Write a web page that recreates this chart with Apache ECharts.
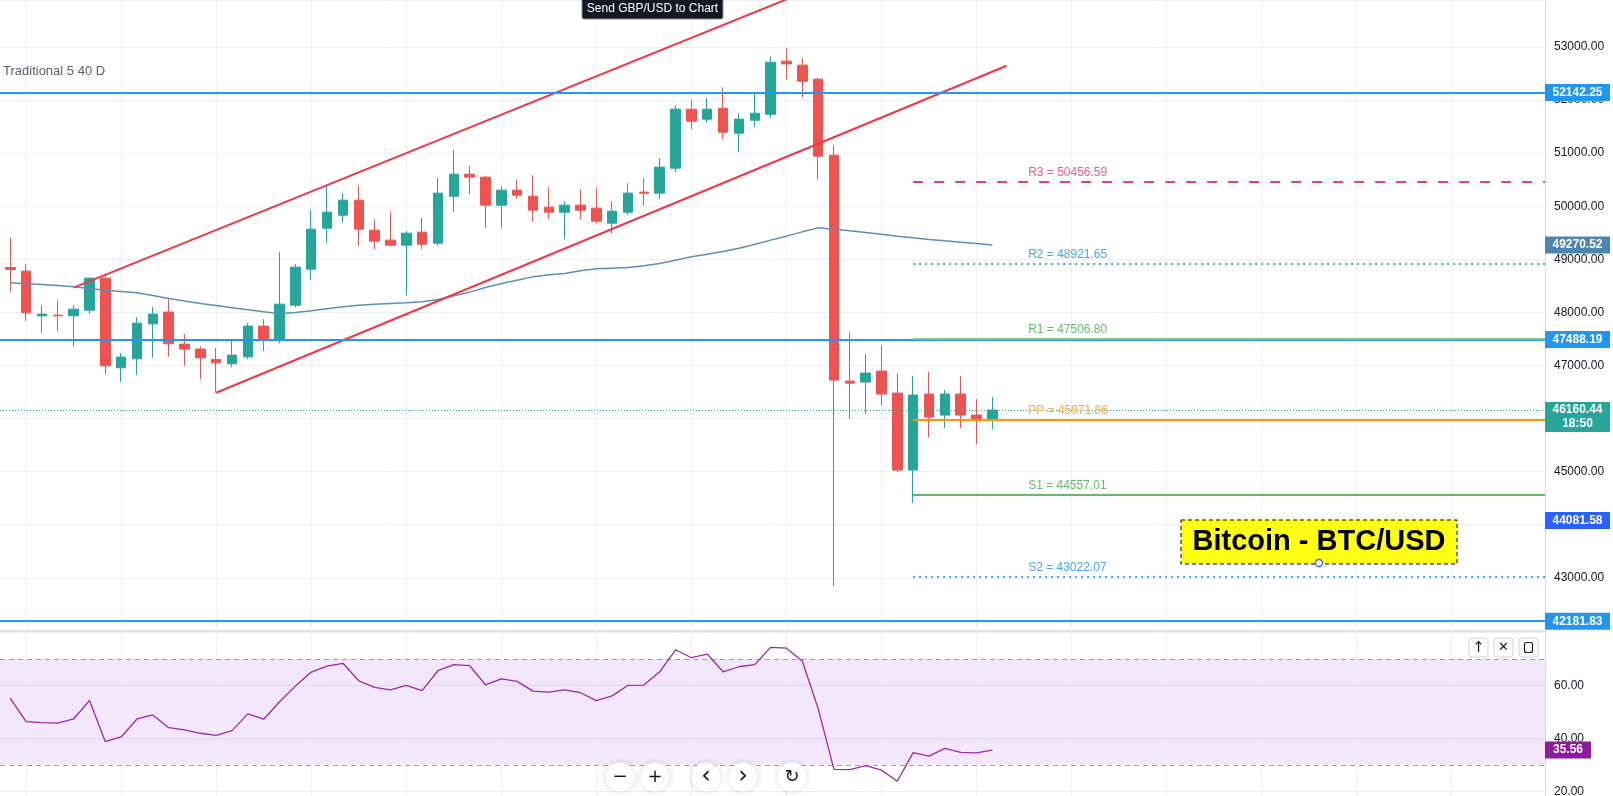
<!DOCTYPE html>
<html>
<head>
<meta charset="utf-8">
<script src="https://cdn.jsdelivr.net/npm/echarts@6/dist/echarts.min.js"></script>
<style>
  html, body { margin: 0; padding: 0; background: #fff; }
  #chart { width: 1613px; height: 796px; }
</style>
</head>
<body>
<div id="chart"></div>
<script>
// BTC/USD candles, index 0..62
const opens = [48847, 48778, 47936, 47949, 47936, 48043, 48646, 46957, 47126, 47785,
  48006, 47403, 47309, 47115, 47032, 47164, 47742, 47497, 48137, 48815,
  49588, 49832, 50115, 49550, 49362, 49267, 49512, 49305, 50190, 50605,
  50548, 50021, 50303, 50190, 49983, 49889, 50021, 49964, 49682, 49889,
  50266, 50247, 50718, 51829, 51640, 51847, 51377, 51621, 51734, 52733,
  52657, 52394, 50962, 46706, 46687, 46895, 46480, 45030, 46462, 46066,
  46462, 46066, 45990]
const closes = [48810, 47992, 47968, 47936, 48062, 48646, 46994, 47158, 47798, 47968,
  47409, 47309, 47145, 47051, 47196, 47742, 47497, 48156, 48853, 49569,
  49889, 50115, 49569, 49343, 49267, 49493, 49286, 50247, 50605, 50548,
  50021, 50303, 50209, 49927, 49889, 50021, 49927, 49719, 49908, 50247,
  50247, 50736, 51829, 51603, 51829, 51395, 51640, 51753, 52714, 52682,
  52356, 50943, 46725, 46667, 46857, 46462, 45030, 46443, 46028, 46462,
  46066, 45991, 46160.44]
const lows = [48388, 47842, 47616, 47648, 47352, 47970, 46838, 46693, 46819, 47145,
  47164, 46994, 46744, 46486, 46970, 47121, 47271, 47422, 48094, 48608,
  49305, 49701, 49249, 49192, 49249, 48326, 49192, 49267, 49889, 50228,
  49588, 49588, 50134, 49719, 49757, 49380, 49757, 49682, 49493, 49832,
  50021, 50134, 50642, 51452, 51584, 51264, 51019, 51490, 51659, 52394,
  52055, 50510, 42850, 45991, 46085, 46254, 44992, 44409, 45652, 45821,
  45821, 45518, 45794]
const highs = [49412, 48910, 48138, 48232, 48138, 48660, 48734, 47234, 47911, 48100,
  48275, 47591, 47365, 47328, 47484, 47798, 47874, 49136, 48910, 49927,
  50384, 50247, 50397, 49757, 49889, 49531, 49782, 50529, 51056, 50755,
  50567, 50379, 50492, 50586, 50360, 50096, 50322, 50341, 50096, 50435,
  50529, 50906, 51904, 51998, 52036, 52243, 51753, 52111, 52827, 52978,
  52789, 52420, 51151, 47629, 47215, 47384, 46857, 46800, 46876, 46537,
  46800, 46367, 46405]

// moving average
const maLine = [48560, 48540, 48525, 48505, 48482, 48450, 48420, 48395, 48369, 48320,
  48264, 48215, 48170, 48130, 48087, 48050, 48011, 47975, 48000, 48030,
  48068, 48105, 48137, 48156, 48170, 48180, 48200, 48245, 48312, 48382,
  48470, 48546, 48608, 48670, 48710, 48734, 48784, 48821, 48834, 48847,
  48878, 48923, 48985, 49047, 49098, 49149, 49211, 49281, 49362, 49437,
  49518, 49593, 49569, 49537, 49507, 49475, 49437, 49405, 49375, 49349,
  49324, 49300, 49271]

// RSI
const rsiLine = [55.1, 46.3, 45.9, 45.7, 47.3, 54.3, 38.7, 40.5, 47.3, 48.8,
  44.0, 43.2, 41.9, 41.1, 42.9, 49.2, 47.2, 53.8, 59.7, 65.0,
  67.2, 68.3, 61.7, 59.2, 58.3, 60.0, 58.0, 65.5, 67.8, 67.4,
  60.2, 62.4, 61.5, 57.8, 57.4, 58.3, 57.2, 54.2, 56.0, 60.0,
  60.1, 65.1, 73.4, 70.4, 71.8, 65.1, 67.0, 67.8, 74.3, 74.0,
  69.2, 51.3, 28.3, 28.2, 29.7, 28.0, 23.8, 34.6, 33.3, 36.2,
  34.7, 34.5, 35.56]

// trend channel (bar index, price)
const channelUpper = [[4, 48466], [50, 54018]]
const channelLower = [[13, 46486], [62.9, 52648]]

// horizontal levels
const blueLevels = [52142.25, 47488.19, 42181.83]
const lastPrice = 46160.44
const lastCountdown = '18:50'
const maLast = 49270.52
const alertLevel = 44081.58
const rsiLast = 35.56

// daily traditional pivots, drawn from bar 57
const pivotStart = 57
const pivotNames = ['R3', 'R2', 'R1', 'PP', 'S1', 'S2']
const pivotValues = [50456.59, 48921.65, 47506.80, 45971.86, 44557.01, 43022.07]
const pivotColors = ['#ec3f6f', '#42a5f5', '#81c784', '#ff9800', '#66bb6a', '#42a5f5']
const pivotLabelColors = ['#ef5b82', '#42a5f5', '#66bb6a', '#ffa74d', '#66bb6a', '#42a5f5']
const pivotTypes = [[10, 11], [2, 4], 'solid', 'solid', 'solid', [2, 4]]

// vertical grid every 6 bars
const gridCols = [1, 7, 13, 19, 25, 31, 37, 43, 49, 55, 61, 67, 73, 79, 85, 91]

const XMIN = -0.65
const XMAX = 96.89
const FONT = "'Liberation Sans', Arial, sans-serif"

let chart = echarts.init(document.getElementById('chart'))

let vGrid = gridCols.map(v => ({ xAxis: v }))

let pivotLines = pivotNames.map((n, i) => [
  {
    coord: [pivotStart, pivotValues[i]],
    lineStyle: { color: pivotColors[i], width: 2, type: pivotTypes[i] },
    label: {
      show: true,
      position: 'insideStartTop',
      distance: [115, 3],
      formatter: n + ' = ' + pivotValues[i].toFixed(2),
      color: pivotLabelColors[i],
      fontSize: 12,
      fontFamily: FONT
    }
  },
  { coord: [XMAX, pivotValues[i]] }
])

function tag(value, text, color, w, h, dy) {
  return {
    coord: [XMAX, value],
    symbol: 'rect',
    symbolSize: [w, h],
    symbolOffset: [w / 2, dy || 0],
    itemStyle: { color: color },
    label: {
      show: true,
      position: 'inside',
      formatter: text,
      color: '#fff',
      fontSize: 12,
      fontWeight: 'bold',
      fontFamily: FONT,
      lineHeight: 14
    }
  }
}

function yAxisBase(grid, min, max, interval, splitColor) {
  return {
    type: 'value', gridIndex: grid, position: 'right', min: min, max: max, interval: interval,
    axisLine: { show: true, onZero: false, lineStyle: { color: '#d6d8de' } },
    axisTick: { show: false },
    axisLabel: {
      margin: 9, color: '#131722', fontSize: 12, fontFamily: FONT,
      showMinLabel: false, showMaxLabel: false,
      formatter: v => v.toFixed(2)
    },
    splitLine: { lineStyle: { color: splitColor } }
  }
}

let option = {
  animation: false,
  backgroundColor: '#ffffff',
  grid: [
    { left: 0, top: 0, width: 1545, height: 630.9, containLabel: false, outerBoundsMode: 'none' },
    { left: 0, top: 632.3, width: 1545, height: 212, containLabel: false, outerBoundsMode: 'none' }
  ],
  xAxis: [
    {
      type: 'value', gridIndex: 0, min: XMIN, max: XMAX,
      axisLine: { show: true, onZero: false, lineStyle: { color: '#e0e3eb', width: 2 } },
      axisTick: { show: false }, axisLabel: { show: false }, splitLine: { show: false }
    },
    {
      type: 'value', gridIndex: 1, min: XMIN, max: XMAX,
      axisLine: { show: false, onZero: false }, axisTick: { show: false }, axisLabel: { show: false }, splitLine: { show: false }
    }
  ],
  yAxis: [
    yAxisBase(0, 42000, 53886, 1000, '#eff0f3'),
    yAxisBase(1, 0, 80, 20, '#eceef2')
  ],
  series: [
    {
      type: 'candlestick',
      xAxisIndex: 0, yAxisIndex: 0,
      data: opens.map((o, i) => [i, o, closes[i], lows[i], highs[i]]),
      encode: { x: 0, y: [1, 2, 3, 4] },
      barWidth: 10,
      itemStyle: {
        color: '#26a69a', color0: '#ef5350',
        borderColor: '#26a69a', borderColor0: '#ef5350', borderWidth: 1
      },
      markLine: {
        silent: true, symbol: 'none', z: 1, animation: false,
        label: { show: false },
        lineStyle: { color: '#eff0f3', type: 'solid', width: 1 },
        data: vGrid
      }
    },
    {
      type: 'line',
      xAxisIndex: 0, yAxisIndex: 0,
      data: maLine.map((v, i) => [i, v]),
      symbol: 'none',
      lineStyle: { color: '#5b8fb6', width: 1.5 },
      z: 3,
      markLine: {
        silent: true, symbol: 'none', z: 5, animation: false,
        label: { show: false },
        data: [
          ...blueLevels.map(v => ({ yAxis: v, lineStyle: { color: '#2196f3', width: 2, type: 'solid' } })),
          { yAxis: lastPrice, lineStyle: { color: '#26a69a', width: 1, type: [1, 2] } },
          ...pivotLines
        ]
      },
      markPoint: {
        silent: true, z: 6, animation: false,
        data: [
          ...blueLevels.map(v => tag(v, v.toFixed(2), '#2196f3', 65, 17)),
          tag(maLast, maLast.toFixed(2), '#4a86ad', 65, 17),
          tag(alertLevel, alertLevel.toFixed(2), '#2962ff', 65, 17),
          tag(lastPrice, lastPrice.toFixed(2) + '\n' + lastCountdown, '#26a69a', 65, 30, 7)
        ]
      }
    },
    {
      type: 'line',
      xAxisIndex: 0, yAxisIndex: 0,
      data: channelUpper,
      symbol: 'none',
      lineStyle: { color: '#f23645', width: 2 },
      z: 4
    },
    {
      type: 'line',
      xAxisIndex: 0, yAxisIndex: 0,
      data: channelLower,
      symbol: 'none',
      lineStyle: { color: '#f23645', width: 2 },
      z: 4
    },
    {
      type: 'line',
      xAxisIndex: 1, yAxisIndex: 1,
      data: rsiLine.map((v, i) => [i, v]),
      symbol: 'none',
      lineStyle: { color: '#9c27b0', width: 1.3 },
      markArea: {
        silent: true,
        itemStyle: { color: 'rgba(155, 60, 230, 0.12)' },
        data: [[{ yAxis: 30 }, { yAxis: 70 }]]
      },
      markLine: {
        silent: true, symbol: 'none', z: 1, animation: false,
        label: { show: false },
        lineStyle: { color: '#eceef2', type: 'solid', width: 1 },
        data: [
          ...vGrid,
          { yAxis: 70, lineStyle: { color: '#a996b6', type: [5, 4], width: 1 } },
          { yAxis: 30, lineStyle: { color: '#a996b6', type: [5, 4], width: 1 } }
        ]
      },
      markPoint: {
        silent: true, z: 6, animation: false,
        data: [tag(rsiLast, rsiLast.toFixed(2), '#8e1a9f', 46, 17)]
      }
    }
  ],
  graphic: [
    {
      type: 'text', left: 3, top: 65, z: 30,
      style: { text: 'Traditional 5 40 D', fill: '#5d606b', font: '13px ' + FONT }
    },
    { type: 'rect', z: 30, shape: { x: 582, y: -3, width: 141, height: 22, r: 2 }, style: { fill: '#131722', stroke: '#8a8d96' } },
    { type: 'text', z: 31, style: { x: 652.5, y: 9, text: 'Send GBP/USD to Chart', fill: '#ffffff', font: '12px ' + FONT, align: 'center', verticalAlign: 'middle' } },

    { type: 'rect', z: 30, shape: { x: 1181, y: 520, width: 276, height: 44 }, style: { fill: '#ffff14', stroke: '#000', lineWidth: 1, lineDash: [4, 3] } },
    { type: 'text', z: 31, style: { x: 1319, y: 542, text: 'Bitcoin - BTC/USD', fill: '#000', font: 'bold 29px ' + FONT, align: 'center', verticalAlign: 'middle' } },
    { type: 'circle', z: 31, shape: { cx: 1319, cy: 563, r: 3.5 }, style: { fill: '#fff', stroke: '#3d5afe', lineWidth: 1.3 } },

    { type: 'rect', z: 30, shape: { x: 1469, y: 638, width: 19, height: 19, r: 3 }, style: { fill: '#fff', stroke: '#d1d4dc' } },
    { type: 'text', z: 31, style: { x: 1478.5, y: 648, text: '↑', fill: '#131722', font: '15px DejaVu Sans', align: 'center', verticalAlign: 'middle' } },
    { type: 'rect', z: 30, shape: { x: 1494, y: 638, width: 19, height: 19, r: 3 }, style: { fill: '#fff', stroke: '#d1d4dc' } },
    { type: 'text', z: 31, style: { x: 1503.5, y: 648, text: '✕', fill: '#131722', font: '13px DejaVu Sans', align: 'center', verticalAlign: 'middle' } },
    { type: 'rect', z: 30, shape: { x: 1519, y: 638, width: 19, height: 19, r: 3 }, style: { fill: '#fff', stroke: '#d1d4dc' } },
    { type: 'rect', z: 31, shape: { x: 1524.5, y: 642.5, width: 8, height: 10, r: 2 }, style: { fill: 'none', stroke: '#131722', lineWidth: 1.2 } },

    ...[['−', 620], ['+', 655], ['‹', 706], ['›', 743], ['↻', 792]].flatMap(b => [
      { type: 'circle', z: 30, shape: { cx: b[1], cy: 777, r: 14.5 }, style: { fill: '#fff', shadowBlur: 6, shadowColor: 'rgba(0,0,0,0.15)' } },
      { type: 'text', z: 31, style: { x: b[1], y: 777, text: b[0], fill: '#131722', font: (b[0] === '‹' || b[0] === '›' ? '24px ' : '18px ') + 'DejaVu Sans', align: 'center', verticalAlign: 'middle' } }
    ])
  ]
}

chart.setOption(option)
</script>
</body>
</html>
